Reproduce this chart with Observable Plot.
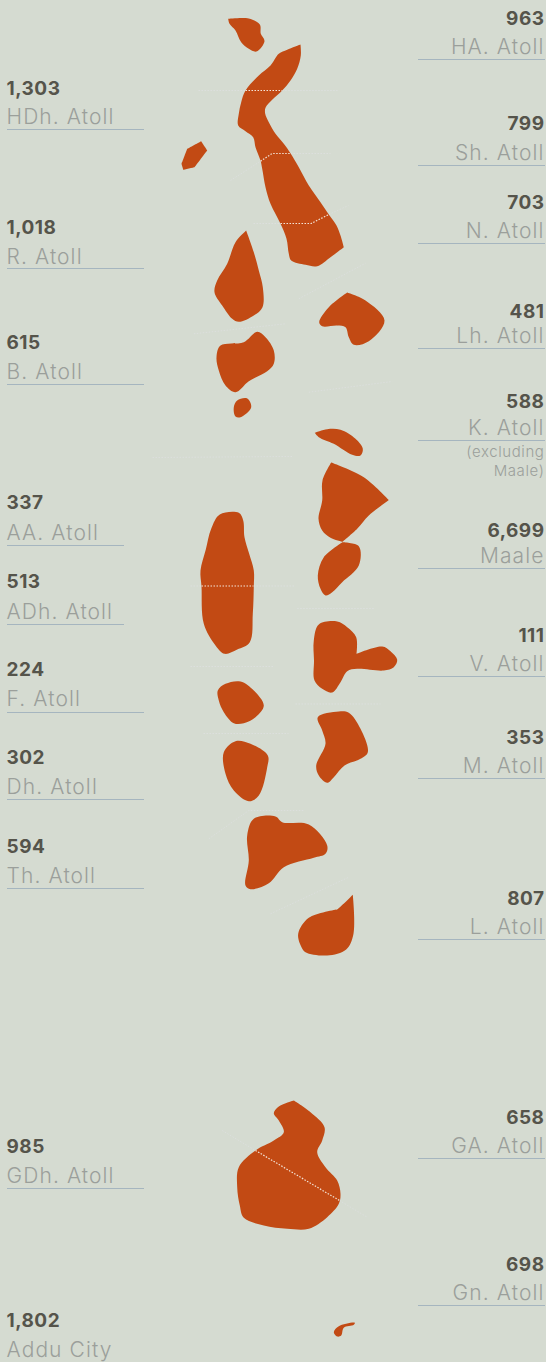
<!DOCTYPE html>
<html><head><meta charset="utf-8">
<script src="https://cdn.jsdelivr.net/npm/d3@7"></script>
<script src="https://cdn.jsdelivr.net/npm/@observablehq/plot@0.6"></script>
<style>html,body{margin:0;padding:0;background:#d5dbd1}svg{display:block}
.val text{letter-spacing:.5px}.nam text{letter-spacing:1.1px}.note text{letter-spacing:.6px}</style>
</head><body><div id="chart"></div>
<script>
// Atoll outlines (x, y in picture pixels). A repeated point is a sharp corner.
const haAtoll=[[227.7,18.3],[227.7,18.3],[248.3,18],[259.3,24],[260.3,33.3],[264,40.7],[256,51],[248.3,48.3],[240.7,41.7],[235,30],[229,23.3]];
const northChain=[[300,44],[300,44],[300.3,55],[296.7,68.3],[290,80],[281.7,90],[271.7,99.3],[265,107.3],[264.7,113.3],[268.3,121.7],[275,133.3],[283.3,143.3],[290,152.7],[298.3,166.7],[308.3,185],[320,201.7],[328.3,214],[336,225],[340,235],[343.3,246.7],[343.3,246.7],[330,256.7],[316.7,265.7],[305,264.3],[290.7,260],[288.3,253.3],[286,238.3],[280,223.3],[270,203.3],[265,186.7],[261.7,168.3],[260,160],[255,146.7],[252.7,136.7],[245,130.7],[237.7,125],[238.3,113.3],[240.7,101.7],[245,90],[258.3,75],[270,65],[278.3,53.3],[286.7,49.3]];
const shIsland=[[200.7,140.7],[200.7,140.7],[206.7,150],[206.7,150],[194,166.7],[194,166.7],[182.7,169.3],[182.7,169.3],[181,163.3],[181,163.3],[186.7,148.3],[186.7,148.3]];
const rAtoll=[[245.7,230],[245.7,230],[253.3,251.7],[258.3,270],[262.3,286.7],[262,306.7],[253.3,315],[238.3,321.3],[231.7,318.3],[221.7,305],[214,291.7],[216.7,280],[226.7,263.3],[235,241.7]];
const lhAtoll=[[346.7,292],[346.7,292],[365,300],[384,320],[368.3,340.7],[353.3,344.3],[348.3,336.7],[345,326.7],[336.7,325],[321.7,325.7],[318.7,321.7],[328.3,306.7]];
const bAtoll=[[256.7,331.3],[265,336.7],[273.3,350],[273.3,363.3],[266.7,370.7],[248.3,380.7],[235,391.7],[225,385],[218.3,370],[216,356.7],[220,345],[243.3,341.7]];
const bIsland=[[246.7,398],[250.7,406.7],[240,416.7],[235,416],[233.3,406.7],[236.7,400]];
const kCrescent=[[314.3,432.3],[314.3,432.3],[326.7,428.7],[340,429.3],[355,438.3],[362.3,448.3],[360,455],[351.7,454.3],[333.3,443.3],[318.3,436.7]];
const kAtoll=[[330.7,462],[330.7,462],[363.3,476.7],[388.3,499.5],[388.3,499.5],[368.3,515],[356.7,528.3],[342,541.3],[342,541.3],[330,537.3],[321.7,530],[318,518.3],[321.7,500],[322,480]];
const maale=[[342,541.7],[342,541.7],[358.3,545.7],[358.3,565],[341.7,581.7],[331.7,591.7],[325,595],[320,588.3],[317.3,575],[323.3,556.7]];
const aaAtoll=[[219.3,514],[238.3,512.3],[242.7,520],[244,536.7],[248.6,553],[253.3,570],[253.3,586],[252.3,613.3],[249.3,641.7],[236.7,649],[224,653.3],[215,645],[203.3,623.3],[201,586],[200,570],[205.3,549],[210.7,528.3]];
const vAtoll=[[318.3,624],[336.7,621],[346.7,626.7],[355.7,636.7],[356,653.3],[356,653.3],[381.7,646],[390,650.7],[396.7,659.3],[393.3,666.7],[383.3,670],[356.7,668.3],[346.7,670.7],[340,681.7],[331.7,692],[321.7,688.3],[314,680],[313.5,660],[313.3,640]];
const fAtoll=[[217.3,690],[225,683.3],[240,681],[253.3,690],[263.3,705],[255,716.7],[243.3,722.7],[233.3,722.7],[223.3,711.7],[218.3,700]];
const mAtoll=[[317.3,716.7],[338.3,711],[348.3,712.3],[360,728.3],[367.3,751.7],[360,758.3],[344,765],[333.3,776.7],[326.7,782.3],[318.3,775],[315.7,765],[325,743.3],[321.7,730]];
const dhAtoll=[[223.3,751.7],[235,740.7],[250,743.3],[267.3,755],[266.7,766.7],[258.3,795],[248.3,800.7],[233.3,790],[225,773.3]];
const thAtoll=[[253.3,818.3],[275,816],[281.7,821.7],[308.3,824],[326.7,845],[325,853.3],[313.3,857.3],[283.3,866.7],[268.3,882.7],[250,888.7],[245,885],[248.3,860],[246.7,835]];
const lAtoll=[[352.3,894.3],[352.3,894.3],[353,933.3],[345.7,949],[326.7,955],[305,951.7],[301,946.7],[297.7,933.3],[308.3,917.3],[336.7,909],[336.7,909],[344.5,902]];
const gaGdh=[[293.3,1100],[293.3,1100],[310,1111.7],[324,1126.7],[321.7,1140],[316.7,1151.7],[325,1166.7],[336.7,1180],[340,1193.3],[338.3,1203.3],[326.7,1216.7],[308.3,1228.3],[286.7,1228.3],[263.3,1225],[243.3,1217.3],[239.3,1205],[236.7,1186.7],[238.3,1166.7],[255,1150],[273.3,1140],[283.3,1131.7],[278.3,1120],[273.3,1112.7],[278.3,1106]];
const adduCity=[[354.3,1322.3],[353.3,1324.3],[343.3,1327.3],[340.7,1335],[336.7,1336],[333.3,1331.7],[338.3,1325.7]];
const outlines=[haAtoll,northChain,shIsland,rAtoll,lhAtoll,bAtoll,bIsland,kCrescent,kAtoll,maale,aaAtoll,vAtoll,fAtoll,mAtoll,dhAtoll,thAtoll,lAtoll,gaGdh,adduCity];

// Boundaries between atolls, inside the land (bright) and out over the sea (faint)
const landBoundaries=[[[245,90],[281.7,90]],[[260,160.7],[271.7,153],[290,153]],[[280,223],[310.7,223],[328.3,214]],[[201,585.5],[253,585.5]],[[255,1150],[339,1200]]];
const seaBoundaries=[[[198,90],[245,90]],[[281.7,90],[337,90]],[[230,180],[260,160.7]],[[290,153],[330,153]],[[253,223],[280,223]],[[328.3,214],[348,205]],[[298.3,298.3],[365,262.7]],[[193.3,333.3],[285,323.3]],[[308.3,391.7],[391.7,381]],[[152,457],[291.7,456]],[[190,585.5],[201,585.5]],[[253,585.5],[295,585.5]],[[296.7,608],[373.3,608]],[[190,666],[273,666]],[[295,703.5],[380,703.5]],[[203,733],[288,733]],[[208.3,838.3],[248.3,810],[303.3,810]],[[270,913.3],[348.3,876.7]],[[221.7,1130],[255,1150]],[[339,1200],[366.7,1216.7]]];

// Labels
const leftNames=["HDh. Atoll","R. Atoll","B. Atoll","AA. Atoll","ADh. Atoll","F. Atoll","Dh. Atoll","Th. Atoll","GDh. Atoll","Addu City"];
const leftValues=["1,303","1,018","615","337","513","224","302","594","985","1,802"];
const leftValueY=[88,227,342,502,581,669,757,846,1146,1320];
const leftNameY=[117,257,372,533,612,699,787,876,1176,1350];
const leftRuleY=[129,268,384,545,624,712,799,888,1188,null];
const leftRuleEnd=[144,144,144,124,124,144,144,144,144,null];
const rightNames=["HA. Atoll","Sh. Atoll","N. Atoll","Lh. Atoll","K. Atoll","Maale","V. Atoll","M. Atoll","L. Atoll","GA. Atoll","Gn. Atoll"];
const rightValues=["963","799","703","481","588","6,699","111","353","807","658","698"];
const rightValueY=[18,123,202,311,401,530,635,737,898,1117,1264];
const rightNameY=[47,153,231,336,428,556,664,766,927,1146,1293];
const rightRuleY=[59,165,243,348,440,568,676,778,939,1158,1305];
const notes=["(excluding","Maale)"];
const noteY=[451.5,471];

const FONT="Inter, 'Open Sans', sans-serif";
const DARK="#55544b", LIGHT="#9b9f9b", RULE="#a5b5bf", LAND="#c24a14";
const toRows=list=>list.flatMap((pts,id)=>pts.map(([x,y])=>({x,y,id})));
const lbl=(names,ys)=>names.map((t,i)=>({t,y:ys[i]}));
const rules=[
  ...leftRuleY.map((y,i)=>({y,x1:7,x2:leftRuleEnd[i]})).filter(d=>d.y!=null),
  ...rightRuleY.map(y=>({y,x1:418,x2:545}))
];
const txt=(cls,rows,x,anchor,size,weight,fill)=>Plot.text(rows,{x:()=>x,y:"y",text:"t",textAnchor:anchor,lineAnchor:"middle",fontSize:size,fontWeight:weight,fontFamily:FONT,fill,className:cls});

const chart=Plot.plot({
  width:546,height:1362,margin:0,
  style:{background:"#d5dbd1"},
  x:{domain:[0,546],axis:null},
  y:{domain:[1362,0],axis:null},
  marks:[
    Plot.line(toRows(seaBoundaries),{x:"x",y:"y",z:"id",stroke:"#dcdfdd",strokeWidth:1,strokeDasharray:"1.5 1.5",strokeLinecap:"butt"}),
    Plot.line(toRows(outlines),{x:"x",y:"y",z:"id",fill:LAND,stroke:"none",curve:"catmull-rom-closed"}),
    Plot.line(toRows(landBoundaries),{x:"x",y:"y",z:"id",stroke:"#f3e4d8",strokeWidth:1.2,strokeDasharray:"1.5 1.5",strokeLinecap:"butt"}),
    Plot.ruleY(rules,{y:"y",x1:"x1",x2:"x2",stroke:RULE,strokeWidth:1}),
    txt("val",lbl(leftValues,leftValueY),6,"start",19,700,DARK),
    txt("nam",lbl(leftNames,leftNameY),6,"start",21,300,LIGHT),
    txt("val",lbl(rightValues,rightValueY),544,"end",19,700,DARK),
    txt("nam",lbl(rightNames,rightNameY),544,"end",21,300,LIGHT),
    txt("note",lbl(notes,noteY),544,"end",15,300,LIGHT)
  ]
});
document.getElementById("chart").appendChild(chart);
</script></body></html>
